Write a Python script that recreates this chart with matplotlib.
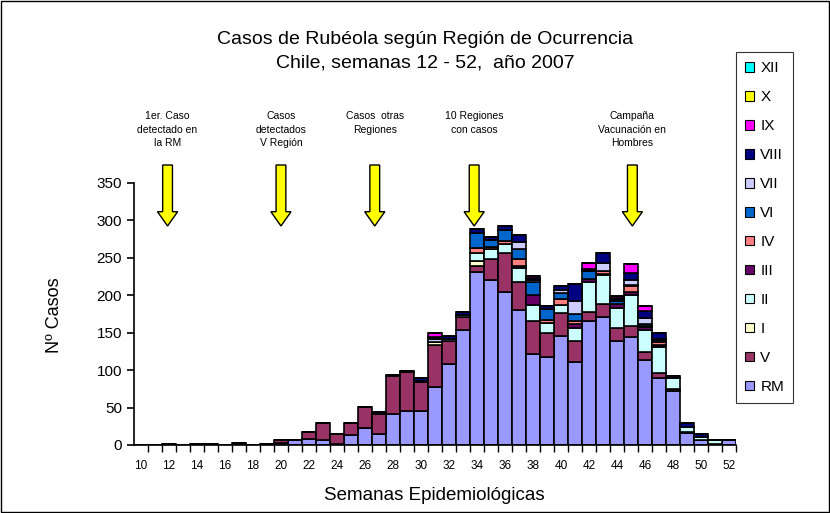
import matplotlib
matplotlib.use("Agg")
import matplotlib.pyplot as plt
from matplotlib.patches import Patch, Polygon, Rectangle
from matplotlib.transforms import blended_transform_factory
import numpy as np

plt.rcParams["font.family"] = ["Liberation Sans", "DejaVu Sans"]

# ------------------------------------------------------------
# Data: cases per epidemiological week (10..52) and region
# ------------------------------------------------------------

WEEKS = list(range(10, 53))

#        10 11 12 13 14 15 16 17 18 19 20 21 22 23 24 25 26 27 28 29 30 31  32  33  34  35  36  37  38  39  40  41  42  43  44  45  46  47  48  49 50 51 52
RM   = [0, 0, 1, 0, 1, 1, 0, 3, 0, 1, 3, 7, 8, 6, 1, 13, 23, 15, 42, 45, 45, 78, 108, 154, 231, 220, 205, 180, 121, 118, 145, 111, 166, 171, 139, 144, 113, 89, 72, 16, 6, 1, 7]
V    = [0, 0, 0, 0, 0, 0, 0, 0, 0, 0, 3, 0, 9, 23, 14, 17, 28, 27, 50, 52, 39, 56, 31, 17, 8, 28, 51, 38, 44, 32, 31, 28, 12, 18, 17, 15, 11, 7, 3, 2, 0, 0, 0]
I    = [0, 0, 0, 0, 0, 0, 0, 0, 0, 0, 0, 0, 0, 0, 0, 0, 0, 0, 0, 0, 0, 4, 0, 0, 7, 0, 0, 0, 0, 0, 0, 0, 0, 0, 0, 0, 0, 0, 0, 0, 0, 0, 0]
II   = [0, 0, 0, 0, 0, 0, 0, 0, 0, 0, 0, 0, 0, 0, 0, 0, 0, 0, 0, 0, 0, 0, 3, 3, 10, 14, 12, 18, 22, 13, 11, 17, 40, 38, 27, 42, 29, 35, 14, 6, 5, 5, 0]
III  = [0, 0, 0, 0, 0, 0, 0, 0, 0, 0, 0, 0, 0, 0, 0, 0, 0, 0, 0, 0, 0, 0, 0, 0, 0, 0, 0, 3, 13, 0, 0, 6, 4, 2, 6, 4, 4, 2, 0, 0, 0, 0, 0]
IV   = [0, 0, 0, 0, 0, 0, 0, 0, 0, 0, 0, 0, 0, 0, 0, 0, 0, 0, 0, 0, 0, 0, 0, 0, 7, 3, 4, 10, 0, 4, 8, 3, 0, 4, 0, 7, 2, 5, 0, 0, 0, 0, 0]
VI   = [0, 0, 0, 0, 0, 0, 0, 0, 0, 0, 0, 0, 0, 0, 0, 0, 0, 0, 0, 0, 2, 0, 0, 0, 20, 9, 15, 13, 18, 15, 8, 10, 10, 0, 3, 2, 2, 2, 0, 0, 0, 0, 0]
VII  = [0, 0, 0, 0, 0, 0, 0, 0, 0, 0, 0, 0, 0, 0, 0, 0, 0, 0, 0, 0, 0, 3, 0, 0, 0, 0, 0, 9, 2, 0, 4, 18, 0, 10, 2, 6, 8, 2, 0, 0, 0, 0, 0]
VIII = [0, 0, 0, 0, 0, 0, 0, 0, 0, 0, 0, 0, 0, 0, 0, 0, 0, 2, 2, 2, 4, 3, 3, 3, 5, 4, 5, 10, 3, 3, 5, 22, 3, 14, 2, 10, 10, 7, 3, 6, 4, 0, 0]
IX   = [0, 0, 0, 0, 0, 0, 0, 0, 0, 0, 0, 0, 0, 0, 0, 0, 0, 0, 0, 0, 0, 5, 0, 0, 0, 0, 0, 0, 3, 0, 0, 0, 8, 0, 3, 12, 7, 0, 0, 0, 0, 0, 0]
X    = [0] * 43
XII  = [0] * 43

REGIONS = ["RM", "V", "I", "II", "III", "IV", "VI", "VII", "VIII", "IX", "X", "XII"]
SERIES = [RM, V, I, II, III, IV, VI, VII, VIII, IX, X, XII]
COLORS = ["#9999FF", "#993366", "#FFFFCC", "#CCFFFF", "#660066", "#FF8080",
          "#0066CC", "#CCCCFF", "#000080", "#FF00FF", "#FFFF00", "#00FFFF"]

# Event annotations (week position, text)
EVENT_WEEKS = [11.9, 20.0, 26.7, 33.8, 45.1]
EVENT_TEXT = [
    "1er. Caso\ndetectado en\nla RM",
    "Casos\ndetectados\nV Región",
    "Casos  otras\nRegiones",
    "10 Regiones\ncon casos",
    "Campaña\nVacunación en\nHombres",
]

# ------------------------------------------------------------
# Figure
# ------------------------------------------------------------

fig = plt.figure(figsize=(8.3, 5.13), dpi=100)
ax = fig.add_axes([0.1614, 0.1326, 0.7253, 0.5107])

bottom = np.zeros(len(WEEKS))
for vals, col in zip(SERIES, COLORS):
    vals = np.array(vals, dtype=float)
    ax.bar(WEEKS, vals, width=1.0, bottom=bottom, color=col,
           edgecolor="black", linewidth=1.2)
    bottom += vals

ax.set_xlim(9.5, 52.5)
ax.set_ylim(0, 350)
ax.set_yticks(range(0, 351, 50))
ax.tick_params(axis="y", labelsize=11, length=5, width=1.2, direction="out")

# ticks between categories, labels on even weeks
ax.set_xticks(np.arange(10.5, 52.6, 1.0))
ax.set_xticklabels([])
ax.tick_params(axis="x", which="major", length=5, width=1.0, direction="out")
ax.set_xticks([w for w in WEEKS if w % 2 == 0], minor=True)
ax.set_xticklabels([str(w) for w in WEEKS if w % 2 == 0], minor=True)
ax.tick_params(axis="x", which="minor", length=0, labelsize=8.5, pad=11)

for s in ["top", "right"]:
    ax.spines[s].set_visible(False)
for s in ["left", "bottom"]:
    ax.spines[s].set_linewidth(1.2)

# titles and labels
fig.text(0.512, 1 - 40 / 513, "Casos de Rubéola según Región de Ocurrencia",
         ha="center", va="center", fontsize=14)
fig.text(0.512, 1 - 63 / 513, "Chile, semanas 12 - 52,  año 2007",
         ha="center", va="center", fontsize=14)
fig.text(0.066, 1 - 315 / 513, "Nº Casos", rotation=90,
         ha="center", va="center", fontsize=13)
fig.text(0.523, 1 - 496 / 513, "Semanas Epidemiológicas",
         ha="center", va="center", fontsize=13.5)

# event arrows and texts
trans = blended_transform_factory(ax.transData, fig.transFigure)
y_top = 1 - 165 / 513
y_head = 1 - 211.7 / 513
y_tip = 1 - 226 / 513
for wk, txt in zip(EVENT_WEEKS, EVENT_TEXT):
    fig.text(wk, 1 - 111 / 513, txt, transform=trans, ha="center", va="top",
             fontsize=7.5, linespacing=1.45)
    sw, hw = 0.35, 0.72
    verts = [(wk - sw, y_top), (wk + sw, y_top), (wk + sw, y_head),
             (wk + hw, y_head), (wk, y_tip), (wk - hw, y_head),
             (wk - sw, y_head)]
    poly = Polygon(verts, closed=True, facecolor="#FFFF00", edgecolor="black",
                   linewidth=1.0, transform=trans, clip_on=False)
    fig.add_artist(poly)

# legend (reverse order, top = XII)
handles = [Patch(facecolor=c, edgecolor="black", linewidth=0.8)
           for c in COLORS[::-1]]
leg = fig.legend(handles, REGIONS[::-1], loc="upper left",
                 bbox_to_anchor=(0.8867, 0.8986), borderaxespad=0,
                 fontsize=11, handlelength=0.6, handleheight=0.6,
                 labelspacing=0.98, handletextpad=0.4, borderpad=0.6,
                 frameon=True, fancybox=False)
leg.get_frame().set_edgecolor("black")
leg.get_frame().set_linewidth(0.8)

# outer chart border
fig.add_artist(Rectangle((0.001, 0.001), 0.998, 0.998, transform=fig.transFigure,
                         fill=False, edgecolor="black", linewidth=1.0))

fig.savefig("out.png", dpi=100)
